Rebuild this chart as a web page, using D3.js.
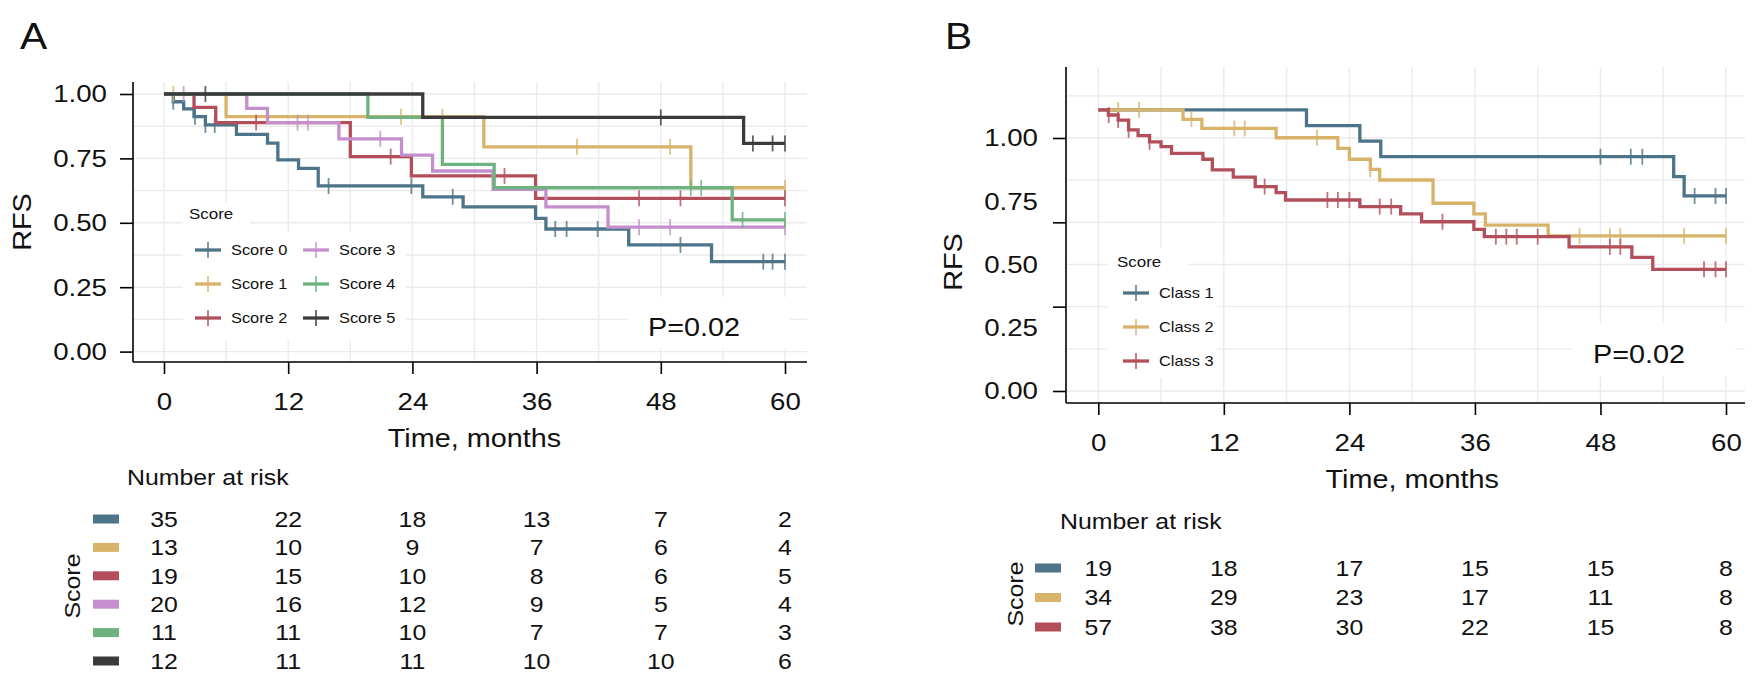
<!DOCTYPE html>
<html lang="en">
<head>
<meta charset="UTF-8">
<title>RFS by score</title>
<script src="https://d3js.org/d3.v7.min.js"></script>
<style>
  body { margin: 0; background: #fff; }
  svg { display: block; font-family: "Liberation Sans", Arial, sans-serif; }
</style>
</head>
<body>
<svg id="chart" width="1753" height="681"></svg>
<script>
// ---------- data, panel A (time in months, survival at each step) ----------
const scoreNames = ["Score 0", "Score 1", "Score 2", "Score 3", "Score 4", "Score 5"];
const scoreColors = ["#4d7488", "#d8b46b", "#b34f5b", "#c48fcc", "#6db27f", "#3b3b3b"];

const s0Times = [0, 0.9, 1.9, 2.9, 4.0, 7.0, 10.0, 11.0, 13.0, 14.9, 25.0, 28.9, 35.9, 36.9, 44.9, 52.9];
const s0Surv  = [1, 0.970, 0.942, 0.912, 0.880, 0.843, 0.809, 0.744, 0.711, 0.643, 0.601, 0.562, 0.517, 0.476, 0.414, 0.349];
const s0Cens  = [0.9, 3.0, 4.0, 4.9, 15.9, 23.9, 27.9, 37.8, 38.9, 41.9, 49.9, 57.9, 58.8, 60];

const s1Times = [0, 6.0, 30.9, 50.9];
const s1Surv  = [1, 0.912, 0.795, 0.636];
const s1Cens  = [0.9, 22.9, 26.9, 39.9, 48.9, 60];

const s2Times = [0, 2.9, 5.0, 18.0, 23.9, 35.9];
const s2Surv  = [1, 0.948, 0.889, 0.757, 0.682, 0.595];
const s2Cens  = [8.9, 21.9, 32.9, 45.9, 49.9, 60];

const s3Times = [0, 8.0, 10.0, 16.9, 22.95, 25.95, 31.8, 36.9, 42.9];
const s3Surv  = [1, 0.944, 0.889, 0.826, 0.763, 0.701, 0.630, 0.562, 0.483];
const s3Cens  = [1.9, 12.9, 13.9, 20.9, 45.9, 48.9, 60];

const s4Times = [0, 19.7, 26.9, 31.9, 54.9];
const s4Surv  = [1, 0.909, 0.727, 0.636, 0.511];
const s4Cens  = [50.9, 51.9, 55.9, 60];

const s5Times = [0, 25.0, 56.0];
const s5Surv  = [1, 0.909, 0.808];
const s5Cens  = [4.0, 48.0, 56.9, 58.8, 60];

const riskTimes = [0, 12, 24, 36, 48, 60];
const riskS0 = [35, 22, 18, 13, 7, 2];
const riskS1 = [13, 10, 9, 7, 6, 4];
const riskS2 = [19, 15, 10, 8, 6, 5];
const riskS3 = [20, 16, 12, 9, 5, 4];
const riskS4 = [11, 11, 10, 7, 7, 3];
const riskS5 = [12, 11, 11, 10, 10, 6];

// ---------- data, panel B (values as read against the printed y labels) ----------
const classNames = ["Class 1", "Class 2", "Class 3"];
const classColors = ["#4d7488", "#d8b46b", "#b34f5b"];

const c1Times = [0, 19.9, 25.0, 27.0, 55.0, 56.0];
const c1Surv  = [1.111, 1.049, 0.988, 0.926, 0.847, 0.771];
const c1Cens  = [48.0, 50.9, 52.0, 57.0, 59.0, 60];

const c2Times = [0, 8.1, 9.9, 17.0, 22.9, 24.0, 26.0, 26.9, 32.0, 35.9, 37.0, 43.0];
const c2Surv  = [1.111, 1.074, 1.038, 1.001, 0.959, 0.916, 0.876, 0.834, 0.742, 0.700, 0.656, 0.613];
const c2Cens  = [1.9, 3.9, 8.9, 13.0, 14.0, 20.9, 26.0, 46.0, 48.9, 49.9, 56.0, 60];

const c3Times = [0, 0.96, 1.9, 2.9, 3.8, 4.9, 6.0, 7.0, 10.0, 10.9, 12.9, 15.0, 17.0, 17.9, 25.0, 28.9, 30.9, 35.9, 36.9, 45.0, 51.0, 53.0];
const c3Surv  = [1.111, 1.091, 1.071, 1.032, 1.009, 0.985, 0.966, 0.939, 0.916, 0.874, 0.845, 0.808, 0.784, 0.755, 0.729, 0.700, 0.669, 0.639, 0.610, 0.570, 0.528, 0.481];
const c3Cens  = [1.0, 1.9, 2.9, 4.9, 15.9, 21.9, 22.9, 24.0, 26.9, 28.0, 32.9, 38.0, 39.0, 40.0, 42.0, 48.9, 49.9, 57.9, 59.0, 60];

const riskC1 = [19, 18, 17, 15, 15, 8];
const riskC2 = [34, 29, 23, 17, 11, 8];
const riskC3 = [57, 38, 30, 22, 15, 8];

const yLabelsA = [0, 0.25, 0.5, 0.75, 1];
const yLabelsB = [0, 0.25, 0.5, 0.75, 1];
const yTicksB = [0, 1 / 3, 2 / 3, 1];
const xTicks = [0, 12, 24, 36, 48, 60];

// ---------- drawing ----------
const SX = 1.13;   // the source text is a bit wider than Arial
const svg = d3.select("#chart");

function label(g, x, y, s, size, anchor = "start", rot = 0) {
  return g.append("text")
    .attr("transform", `translate(${x},${y}) rotate(${rot}) scale(${SX},1)`)
    .attr("text-anchor", anchor)
    .attr("dy", "0.35em")
    .attr("font-size", size)
    .attr("fill", "#111")
    .text(s);
}

function stepAt(times, surv, t) {
  let i = 0;
  while (i + 1 < times.length && times[i + 1] <= t) i++;
  return surv[i];
}

function drawPanel(p) {
  const g = svg.append("g");
  const x = d3.scaleLinear().domain([0, 60]).range(p.xRange);
  const y = d3.scaleLinear().domain([0, 1]).range(p.yRange);

  // grid
  g.append("g").selectAll("line").data(p.gridY).join("line")
    .attr("x1", p.axisX).attr("x2", p.right)
    .attr("y1", d => y(d)).attr("y2", d => y(d))
    .attr("stroke", "#ebebeb").attr("stroke-width", 1.4);
  g.append("g").selectAll("line").data(d3.range(0, 61, 6)).join("line")
    .attr("x1", d => x(d)).attr("x2", d => x(d))
    .attr("y1", p.top).attr("y2", p.axisY)
    .attr("stroke", "#ebebeb").attr("stroke-width", 1.4);

  // curves
  const line = d3.line().x(d => x(d[0])).y(d => y(d[1])).curve(d3.curveStepAfter);
  p.series.forEach(s => {
    const pts = s.times.map((t, i) => [t, s.surv[i]]);
    pts.push([60, s.surv[s.surv.length - 1]]);
    g.append("path").attr("d", line(pts))
      .attr("fill", "none").attr("stroke", s.color).attr("stroke-width", 3.3);
    g.append("g").selectAll("line").data(s.cens).join("line")
      .attr("x1", d => x(d)).attr("x2", d => x(d))
      .attr("y1", d => y(stepAt(s.times, s.surv, d)) - 8)
      .attr("y2", d => y(stepAt(s.times, s.surv, d)) + 8)
      .attr("stroke", s.color).attr("stroke-width", 1.8).attr("opacity", 0.8);
  });

  // legend
  const lg = g.append("g");
  lg.append("rect").attr("x", p.leg.box[0]).attr("y", p.leg.box[1])
    .attr("width", p.leg.box[2]).attr("height", p.leg.box[3]).attr("fill", "#fff");
  lg.append("rect").attr("x", p.leg.tbox[0]).attr("y", p.leg.tbox[1])
    .attr("width", p.leg.tbox[2]).attr("height", p.leg.tbox[3]).attr("fill", "#fff");
  label(lg, p.leg.tx, p.leg.ty, "Score", 15);
  p.series.forEach((s, i) => {
    const col = Math.floor(i / p.leg.perCol);
    const row = i % p.leg.perCol;
    const kx = p.leg.kx + col * p.leg.colW;
    const ky = p.leg.ky + row * p.leg.rowH;
    lg.append("line").attr("x1", kx).attr("x2", kx + 26).attr("y1", ky).attr("y2", ky)
      .attr("stroke", s.color).attr("stroke-width", 3.3);
    lg.append("line").attr("x1", kx + 13).attr("x2", kx + 13).attr("y1", ky - 8).attr("y2", ky + 8)
      .attr("stroke", s.color).attr("stroke-width", 1.8).attr("opacity", 0.8);
    label(lg, kx + 36, ky, s.name, 14.5);
  });

  // p value
  g.append("rect").attr("x", p.pBox[0]).attr("y", p.pBox[1])
    .attr("width", p.pBox[2]).attr("height", p.pBox[3]).attr("fill", "#fff");
  label(g, p.pText[0], p.pText[1], "P=0.02", 25.5);

  // axes
  g.append("line").attr("x1", p.axisX).attr("x2", p.axisX).attr("y1", p.top).attr("y2", p.axisY)
    .attr("stroke", "#000").attr("stroke-width", 1.6);
  g.append("line").attr("x1", p.axisX).attr("x2", p.right).attr("y1", p.axisY).attr("y2", p.axisY)
    .attr("stroke", "#000").attr("stroke-width", 1.6);

  const ya = g.append("g").attr("transform", `translate(${p.axisX},0)`)
    .call(d3.axisLeft(y).tickValues(p.yTicks).tickSize(13).tickFormat(""));
  const yl = g.append("g").attr("transform", `translate(${p.axisX},0)`)
    .call(d3.axisLeft(y).tickValues(p.yLabels).tickSize(0).tickFormat(d3.format(".2f")));
  const xa = g.append("g").attr("transform", `translate(0,${p.axisY})`)
    .call(d3.axisBottom(x).tickValues(xTicks).tickSize(12));
  [ya, yl, xa].forEach(a => {
    a.select(".domain").remove();
    a.selectAll("line").attr("stroke", "#000").attr("stroke-width", 1.6);
  });
  yl.selectAll("text").attr("x", -p.yLabelGap / SX).attr("font-size", 24.5)
    .attr("fill", "#111").attr("font-family", "Liberation Sans, Arial, sans-serif")
    .attr("transform", `scale(${SX},1)`);
  xa.selectAll("text").attr("y", 31).attr("font-size", 24.5)
    .attr("fill", "#111").attr("font-family", "Liberation Sans, Arial, sans-serif")
    .attr("transform", `scale(${SX},1)`);

  label(g, p.rfs[0], p.rfs[1], "RFS", 25.5, "middle", -90);
  label(g, (p.xRange[0] + p.xRange[1]) / 2, p.axisY + 76, "Time, months", 25.5, "middle");
  label(g, p.letter[0], p.letter[1], p.letterText, 36);

  // number at risk table
  label(g, p.axisX - 6, p.nar, "Number at risk", 22);
  const rowY = d3.scalePoint().domain(p.series.map(s => s.name)).range(p.rows);
  p.series.forEach(s => {
    g.append("rect").attr("x", p.boxX).attr("y", rowY(s.name) - 4.5)
      .attr("width", 26).attr("height", 9).attr("fill", s.color);
    s.risk.forEach((n, i) => label(g, x(riskTimes[i]), rowY(s.name), n, 22, "middle"));
  });
  label(g, p.scoreLab[0], p.scoreLab[1], "Score", 22, "middle", -90);
}

const allA = [
  [s0Times, s0Surv, s0Cens, riskS0], [s1Times, s1Surv, s1Cens, riskS1],
  [s2Times, s2Surv, s2Cens, riskS2], [s3Times, s3Surv, s3Cens, riskS3],
  [s4Times, s4Surv, s4Cens, riskS4], [s5Times, s5Surv, s5Cens, riskS5]
];
const allB = [
  [c1Times, c1Surv, c1Cens, riskC1], [c2Times, c2Surv, c2Cens, riskC2],
  [c3Times, c3Surv, c3Cens, riskC3]
];

drawPanel({
  series: allA.map((a, i) => ({ name: scoreNames[i], color: scoreColors[i], times: a[0], surv: a[1], cens: a[2], risk: a[3] })),
  xRange: [164, 785], yRange: [351.6, 94],
  axisX: 133, axisY: 362, top: 82, right: 807,
  gridY: d3.range(0, 1.001, 0.125),
  yTicks: yLabelsA, yLabels: yLabelsA, yLabelGap: 26,
  leg: { box: [183, 232, 223, 108], tbox: [183, 203, 67, 30], tx: 189, ty: 214,
         kx: 195, ky: 250, rowH: 34, colW: 108, perCol: 3 },
  pBox: [627, 297, 163, 52], pText: [648, 327],
  rfs: [22, 222], letter: [20, 36], letterText: "A",
  nar: 477, rows: [519, 661], boxX: 93, scoreLab: [72, 586]
});

drawPanel({
  series: allB.map((a, i) => ({ name: classNames[i], color: classColors[i], times: a[0], surv: a[1], cens: a[2], risk: a[3] })),
  xRange: [1098.3, 1726], yRange: [391, 138],
  axisX: 1066, axisY: 403, top: 67, right: 1745,
  gridY: d3.range(0, 7.001, 1).map(k => k / 6),
  yTicks: yTicksB, yLabels: yLabelsB, yLabelGap: 28,
  leg: { box: [1107, 278, 110, 100], tbox: [1107, 248, 82, 30], tx: 1117, ty: 262,
         kx: 1123, ky: 293, rowH: 34, colW: 0, perCol: 3 },
  pBox: [1573, 323, 162, 53], pText: [1593, 354],
  rfs: [953, 262], letter: [945, 36], letterText: "B",
  nar: 521, rows: [568, 627], boxX: 1035, scoreLab: [1015, 594]
});
</script>
</body>
</html>
